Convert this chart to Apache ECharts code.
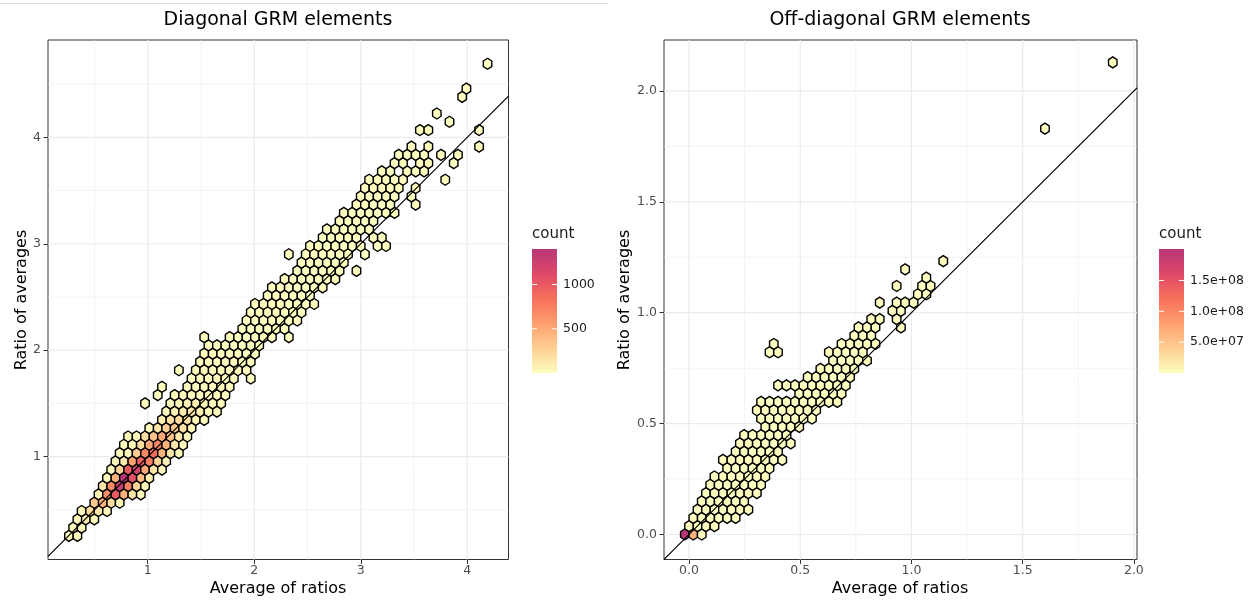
<!DOCTYPE html>
<html><head><meta charset="utf-8">
<script src="https://cdn.jsdelivr.net/npm/echarts@6.0.0/dist/echarts.min.js"></script>
<style>html,body{margin:0;padding:0;background:#fff}#chart{width:1250px;height:603px}</style>
</head><body><div id="chart"></div>
<script>
// ---------------- data ----------------
const diagTitle = 'Diagonal GRM elements';
const offTitle = 'Off-diagonal GRM elements';
const xAxisTitle = 'Average of ratios';
const yAxisTitle = 'Ratio of averages';
const legendTitle = 'count';

// hexbin lattice (data units): centre of column c in row r = x0 + (c + (r odd ? .5 : 0))*dx , y0 + r*dy
const diagBins = {x0: 0.260, y0: 0.256, dx: 0.0794, dy: 0.0778};
const offBins  = {x0: -0.019, y0: 0.0, dx: 0.0381, dy: 0.03735};

// runs of occupied bins: [row, firstCol, lastCol, count]
const diagRuns = [
  [0,0,1,20],[1,0,1,30],[2,1,3,40],[3,1,4,50],[4,3,6,60],[5,3,8,40],[6,4,9,40],[7,4,9,40],
  [8,5,11,30],[9,5,11,30],[10,6,13,25],[11,6,13,25],[12,7,14,25],[13,9,14,25],[14,11,16,20],[15,11,17,20],
  [16,9,9,3],[16,12,18,20],[17,10,10,3],[17,12,18,15],[18,11,11,3],[18,14,19,15],
  [19,14,19,15],[19,21,21,3],[20,13,13,3],[20,15,21,12],[21,15,21,12],[22,16,22,10],[23,16,22,10],
  [24,16,16,3],[24,19,24,10],[24,26,26,3],[25,20,25,10],[26,21,27,8],[27,21,27,8],[28,22,29,8],[29,23,28,8],
  [30,24,30,6],[31,25,31,6],[32,27,32,6],[32,34,34,2],[33,27,32,6],
  [34,26,26,2],[34,28,33,5],[34,35,35,2],[35,28,34,5],[35,36,37,2],[36,30,34,5],[36,36,37,2],
  [37,30,35,4],[38,32,36,4],[39,32,38,3],[40,34,38,3],[40,41,41,1],[41,34,38,3],[41,40,40,1],
  [42,35,39,3],[42,41,41,1],[43,35,39,3],[43,44,44,1],[44,37,38,2],[44,40,42,2],
  [45,38,39,2],[45,41,42,2],[45,45,45,1],[46,39,42,2],[46,44,44,1],[46,46,46,1],
  [47,40,40,1],[47,42,42,1],[47,48,48,1],[49,41,42,1],[49,48,48,1],
  [50,45,45,1],[51,43,43,1],[53,46,46,1],[54,47,47,1],[57,49,49,1]
];
// bins with higher counts: [row, col, count]
const diagHot = [
  [2,2,120],[3,2,200],[3,3,150],
  [4,3,300],[4,4,450],[4,5,200],
  [5,4,650],[5,5,1000],[5,6,450],[5,7,150],
  [6,4,150],[6,5,700],[6,6,1300],[6,7,750],[6,8,250],
  [7,5,450],[7,6,1400],[7,7,1050],[7,8,400],[7,9,100],
  [8,6,250],[8,7,1000],[8,8,1200],[8,9,500],[8,10,150],
  [9,6,120],[9,7,550],[9,8,950],[9,9,750],[9,10,250],[9,11,60],
  [10,8,300],[10,9,700],[10,10,850],[10,11,450],[10,12,150],
  [11,8,200],[11,9,500],[11,10,700],[11,11,450],[11,12,150],
  [12,9,200],[12,10,350],[12,11,500],[12,12,350],[12,13,120],
  [13,10,150],[13,11,280],[13,12,320],[13,13,180],[13,14,60],
  [14,11,100],[14,12,180],[14,13,220],[14,14,150],[14,15,50],
  [15,12,60],[15,13,110],[15,14,130],[15,15,80],[15,16,30],
  [16,13,50],[16,14,80],[16,15,90],[16,16,50]
];

const offRuns = [
  [0,0,2,3e6],[1,0,3,2e6],[2,1,6,1e6],[3,1,7,8e5],[4,2,7,5e5],[5,2,8,4e5],[6,3,9,3e5],[7,3,9,2e5],
  [8,5,10,1.5e5],[9,4,11,1e5],[10,6,11,8e4],[11,6,12,6e4],[12,7,12,4e4],[13,9,13,3e4],[14,9,15,2e4],
  [15,8,15,1.5e4],[16,9,18,1e4],[17,13,18,8e3],[18,11,19,6e3],[19,14,19,5e3],[20,16,20,4e3],
  [21,17,21,3e3],[22,10,11,50],[22,17,21,2e3],[23,10,10,50],[23,18,22,1.5e3],[24,20,22,1e3],
  [25,20,22,800],[25,25,25,100],[26,22,23,500],[26,25,25,100],[27,24,25,300],
  [28,23,23,100],[28,25,27,200],[29,27,28,100],[30,25,25,50],[30,28,29,80],[31,28,28,50],
  [32,26,26,20],[33,30,30,20],[49,42,42,10],[57,50,50,5]
];
const offHot = [[0,0,2.0e8],[0,1,6.5e7]];

// axes
const diagXRange = [0.0635, 4.387], diagYRange = [0.034, 4.914];
const offXRange = [-0.1125, 2.014], offYRange = [-0.1128, 2.2296];
const diagXTicks = [1,2,3,4], diagYTicks = [1,2,3,4];
const diagXMinor = [0.5,1.5,2.5,3.5], diagYMinor = [0.5,1.5,2.5,3.5,4.5];
const offXTicks = [0,0.5,1,1.5,2], offYTicks = [0,0.5,1,1.5,2];
const offXMinor = [0.25,0.75,1.25,1.75], offYMinor = [0.25,0.75,1.25,1.75];

// colour scale
const diagCountRange = [1, 1400];
const offCountRange = [1, 2.01e8];
const diagLegendTicks = [500, 1000];
const offLegendTicks = [5e7, 1e8, 1.5e8];
const magma = ['#FCFDBF','#FECF92','#FE9F6D','#F7705C','#DE4968','#B73779'];

// ---------------- build ----------------
const FONT = 'DejaVu Sans';
function expand(runs, hot, bins) {
  const hm = {};
  hot.forEach(h => { hm[h[0] + '_' + h[1]] = h[2]; });
  const out = [];
  runs.forEach(([r, c0, c1, n]) => {
    for (let c = c0; c <= c1; c++) {
      const k = r + '_' + c;
      out.push([bins.x0 + (c + (r % 2) * 0.5) * bins.dx, bins.y0 + r * bins.dy, k in hm ? hm[k] : n]);
    }
  });
  return out;
}
function hexRender(bins) {
  return function (params, api) {
    const p = api.coord([api.value(0), api.value(1)]);
    const s = api.size([bins.dx, bins.dy]);
    const hw = s[0] / 2, q = s[1] * 1.15 / Math.sqrt(3) / 2;
    return {
      type: 'polygon',
      shape: {points: [[p[0]+hw,p[1]-q],[p[0],p[1]-2*q],[p[0]-hw,p[1]-q],[p[0]-hw,p[1]+q],[p[0],p[1]+2*q],[p[0]+hw,p[1]+q]]},
      style: {fill: api.visual('color'), stroke: '#000', lineWidth: 1.4}
    };
  };
}
function gridData(xMaj, xMin, yMaj, yMin) {
  const d = [];
  xMin.forEach(v => d.push([v, 0, 0])); yMin.forEach(v => d.push([v, 1, 0]));
  xMaj.forEach(v => d.push([v, 0, 1])); yMaj.forEach(v => d.push([v, 1, 1]));
  return d;
}
function gridRender(xr, yr) {
  return function (params, api) {
    const v = api.value(0), o = api.value(1), m = api.value(2);
    const cs = params.coordSys;
    let shape;
    if (o === 0) { const x = api.coord([v, yr[0]])[0]; shape = {x1: x, y1: cs.y, x2: x, y2: cs.y + cs.height}; }
    else { const y = api.coord([xr[0], v])[1]; shape = {x1: cs.x, y1: y, x2: cs.x + cs.width, y2: y}; }
    return {type: 'line', shape, style: {stroke: '#EBEBEB', lineWidth: m ? 1.2 : 0.6}};
  };
}
function axis(gi, range, ticks, fmt, margin) {
  return {
    type: 'value', gridIndex: gi, min: range[0], max: range[1],
    axisLine: {show: false, onZero: false}, splitLine: {show: false},
    axisTick: {show: true, customValues: ticks, length: 4.5, lineStyle: {color: '#333', width: 1}},
    axisLabel: {customValues: ticks, margin: margin, color: '#4D4D4D', fontSize: 12.5, fontFamily: FONT, formatter: fmt}
  };
}
const fmtInt = v => String(v);
const fmt1 = v => Number(v).toFixed(1);
const fmtSci = v => v.toExponential(1).replace(/e\+(\d)$/, 'e+0$1');

function legend(x, y, w, h, range, ticks, fmt) {
  const els = [];
  els.push({type: 'text', x: x, y: y - 15, style: {text: legendTitle, font: '15px "' + FONT + '"', fill: '#1A1A1A', align: 'left', verticalAlign: 'middle'}});
  els.push({type: 'rect', shape: {x: x, y: y, width: w, height: h},
    style: {fill: new echarts.graphic.LinearGradient(0, 1, 0, 0, magma.map((c, i) => ({offset: i / (magma.length - 1), color: c})))}});
  ticks.forEach(t => {
    const ty = y + h - (t - range[0]) / (range[1] - range[0]) * h;
    els.push({type: 'line', shape: {x1: x, y1: ty, x2: x + w / 5, y2: ty}, style: {stroke: '#fff', lineWidth: 1}});
    els.push({type: 'line', shape: {x1: x + w - w / 5, y1: ty, x2: x + w, y2: ty}, style: {stroke: '#fff', lineWidth: 1}});
    els.push({type: 'text', x: x + w + 6, y: ty, style: {text: fmt(t), font: '12.5px "' + FONT + '"', fill: '#1A1A1A', align: 'left', verticalAlign: 'middle'}});
  });
  return els;
}
function label(text, x, y, size, rot) {
  return {type: 'text', x: x, y: y, rotation: rot || 0,
    style: {text: text, font: size + 'px "' + FONT + '"', fill: '#000', align: 'center', verticalAlign: 'middle'}};
}

const chart = echarts.init(document.getElementById('chart'), null, {renderer: 'canvas'});
chart.setOption({
  animation: false,
  backgroundColor: '#fff',
  grid: [
    {left: 48, top: 40, width: 460.5, height: 519.5, show: true, borderColor: '#333', borderWidth: 1, outerBoundsMode: 'none'},
    {left: 664, top: 40, width: 473, height: 519.5, show: true, borderColor: '#333', borderWidth: 1, outerBoundsMode: 'none'}
  ],
  xAxis: [axis(0, diagXRange, diagXTicks, fmtInt, 5), axis(1, offXRange, offXTicks, fmt1, 5)],
  yAxis: [axis(0, diagYRange, diagYTicks, fmtInt, 7), axis(1, offYRange, offYTicks, fmt1, 7)],
  visualMap: [
    {type: 'continuous', show: false, seriesIndex: 1, dimension: 2, min: diagCountRange[0], max: diagCountRange[1], inRange: {color: magma}},
    {type: 'continuous', show: false, seriesIndex: 4, dimension: 2, min: offCountRange[0], max: offCountRange[1], inRange: {color: magma}}
  ],
  series: [
    {type: 'custom', xAxisIndex: 0, yAxisIndex: 0, z: 1, silent: true, renderItem: gridRender(diagXRange, diagYRange), data: gridData(diagXTicks, diagXMinor, diagYTicks, diagYMinor)},
    {type: 'custom', xAxisIndex: 0, yAxisIndex: 0, z: 3, renderItem: hexRender(diagBins), data: expand(diagRuns, diagHot, diagBins)},
    {type: 'line', xAxisIndex: 0, yAxisIndex: 0, z: 5, symbol: 'none', silent: true, lineStyle: {color: '#000', width: 1.2}, data: [[diagXRange[0], diagXRange[0]], [diagXRange[1], diagXRange[1]]]},
    {type: 'custom', xAxisIndex: 1, yAxisIndex: 1, z: 1, silent: true, renderItem: gridRender(offXRange, offYRange), data: gridData(offXTicks, offXMinor, offYTicks, offYMinor)},
    {type: 'custom', xAxisIndex: 1, yAxisIndex: 1, z: 3, renderItem: hexRender(offBins), data: expand(offRuns, offHot, offBins)},
    {type: 'line', xAxisIndex: 1, yAxisIndex: 1, z: 5, symbol: 'none', silent: true, lineStyle: {color: '#000', width: 1.2}, data: [[offXRange[0], offXRange[0]], [offXRange[1], offXRange[1]]]}
  ],
  graphic: [].concat(
    [{type: 'line', shape: {x1: 0, y1: 3.5, x2: 608, y2: 3.5}, style: {stroke: '#DADADA', lineWidth: 1}}],
    [label(diagTitle, 278, 20, 19), label(offTitle, 900, 20, 19),
     label(xAxisTitle, 278, 589, 16), label(xAxisTitle, 900, 589, 16),
     label(yAxisTitle, 22, 300, 16, Math.PI / 2), label(yAxisTitle, 625, 300, 16, Math.PI / 2)],
    legend(532, 249, 25, 124, diagCountRange, diagLegendTicks, fmtInt),
    legend(1159, 249, 25, 124, offCountRange, offLegendTicks, fmtSci)
  )
});
</script>
</body></html>
